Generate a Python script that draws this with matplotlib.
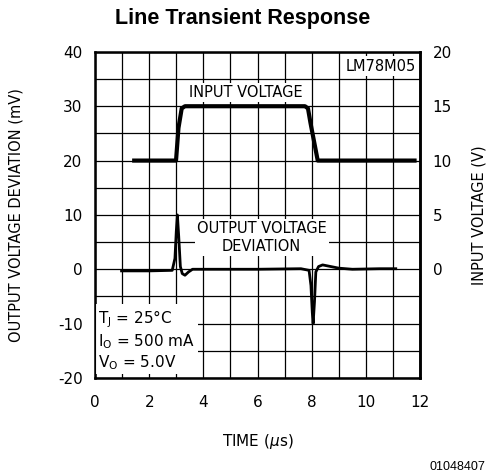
import matplotlib.pyplot as plt
import numpy as np

# input voltage trace (time in us, volts)
t_in = [1.37, 2.99, 3.08, 3.2, 3.32, 7.75, 7.86, 7.95, 8.22, 11.87]
v_in = [10.0, 10.0, 13.0, 14.8, 15.0, 15.0, 14.8, 13.5, 10.0, 10.0]

# output voltage deviation trace (time in us, mV)
t_out = [0.98, 2.0, 2.85, 2.95, 3.0, 3.04, 3.09, 3.15, 3.22, 3.32, 3.45, 3.6, 4.0,
         6.0, 7.6, 7.9, 7.97, 8.02, 8.05, 8.1, 8.15, 8.25, 8.4, 8.6, 9.0, 9.5, 10.5, 11.1]
v_out = [-0.3, -0.3, -0.2, 2.0, 7.0, 10.0, 6.0, 0.5, -0.8, -1.1, -0.5, 0.0, 0.0,
         0.0, 0.1, -0.2, -3.0, -8.0, -10.0, -6.0, -0.5, 0.5, 0.8, 0.6, 0.2, 0.0, 0.1, 0.1]

mv_ticks = [-20, -10, 0, 10, 20, 30, 40]
v_ticks = [0, 5, 10, 15, 20]
t_ticks = [0, 2, 4, 6, 8, 10, 12]

plt.rcParams['font.family'] = ['DejaVu Sans']
plt.rcParams['axes.unicode_minus'] = False

fig = plt.figure(figsize=(4.86, 4.76), dpi=100)
ax = fig.add_axes([0.1955, 0.206, 0.669, 0.685])

ax.set_xlim(0, 12)
ax.set_ylim(-20, 40)
ax.set_xticks(np.arange(0, 13, 1), minor=True)
ax.set_yticks(np.arange(-20, 41, 5), minor=True)
ax.set_xticks(t_ticks)
ax.set_yticks(mv_ticks)
ax.grid(True, which='both', color='black', lw=0.9)
ax.tick_params(which='both', length=0, labelsize=11)
ax.tick_params(axis='x', pad=12)
ax.tick_params(axis='y', pad=9)
for s in ax.spines.values():
    s.set_linewidth(1.8)

# input voltage on the right scale (V = mV / 2)
ax.plot(t_in, [v * 2 for v in v_in], color='black', lw=3.0, solid_capstyle='butt', zorder=3)
ax.plot(t_out, v_out, color='black', lw=2.0, zorder=3)

ax2 = ax.twinx()
ax2.set_ylim(-10, 20)
ax2.set_yticks(v_ticks)
ax2.tick_params(length=0, labelsize=11, pad=9)
ax2.spines['right'].set_linewidth(1.8)

box = dict(facecolor='white', edgecolor='none', pad=1.5)
ax.text(11.85, 37.4, 'LM78M05', ha='right', va='center', fontsize=10.5, bbox=box, zorder=4)
ax.text(5.56, 32.6, 'INPUT VOLTAGE', ha='center', va='center', fontsize=10.5, bbox=box, zorder=4)
ax.text(6.15, 5.85, 'OUTPUT VOLTAGE\nDEVIATION', ha='center', va='center', fontsize=10.5,
        linespacing=1.3, bbox=box, zorder=4)
ax.text(0.12, -13.0, '$\\mathregular{T_J}$ = 25°C\n$\\mathregular{I_O}$ = 500 mA\n$\\mathregular{V_O}$ = 5.0V',
        ha='left', va='center', fontsize=11, linespacing=1.15,
        bbox=dict(facecolor='white', edgecolor='none', pad=2), zorder=4)

ax.set_xlabel('TIME ($\\mu$s)', fontsize=11, labelpad=16)
ax.set_ylabel('OUTPUT VOLTAGE DEVIATION (mV)', fontsize=10.5, labelpad=25)
ax2.set_ylabel('INPUT VOLTAGE (V)', fontsize=10.5, labelpad=14)

fig.text(0.5, 0.962, 'Line Transient Response', ha='center', va='center',
         fontsize=15.5, fontweight='bold', family='Liberation Sans')
fig.text(0.998, 0.018, '01048407', ha='right', va='center', fontsize=9, family='Liberation Sans')

fig.savefig('out.png', dpi=100)
